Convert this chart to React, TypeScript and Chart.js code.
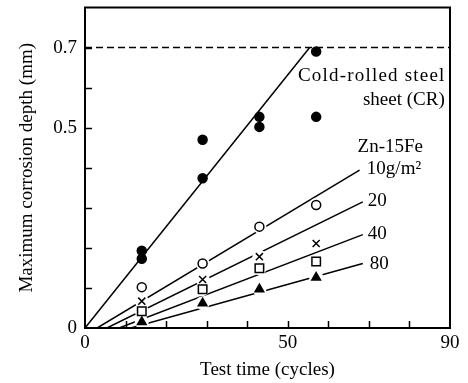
import React, { useEffect, useRef } from 'react';
import { Chart, registerables } from 'chart.js';

Chart.register(...registerables);

// ---- data ----
const cycles = [14, 29, 43, 57];
const crUpper = [0.193, 0.47, 0.527, 0.69];
const crLower = [0.173, 0.374, 0.502, 0.527];
const zn10 = [0.102, 0.161, 0.253, 0.307];
const zn20 = [0.067, 0.121, 0.178, 0.211];
const zn40 = [0.042, 0.097, 0.149, 0.166];
const zn80 = [0.015, 0.062, 0.097, 0.126];

const crFitX = [0, 55.4];
const crFitY = [0, 0.7];
const fit10X = [3.0, 67.7];
const fit10Y = [0, 0.394];
const fit20X = [5.4, 68.5];
const fit20Y = [0, 0.315];
const fit40X = [8.4, 68.5];
const fit40Y = [0, 0.233];
const fit80X = [11.3, 68.5];
const fit80Y = [0, 0.161];

const limitDepth = 0.7;
const xRange = [0, 90];
const yRange = [0, 0.8];
const xTickLabels = [0, 50, 90];
const yTickLabels = [0, 0.5, 0.7];

const annotationTexts = ['Cold-rolled steel', 'sheet (CR)', 'Zn-15Fe', '10g/m\u00B2', '20', '40', '80'];
const annotationX = [88.9, 88.7, 67.2, 69.5, 69.7, 69.7, 70.2];
const annotationY = [0.629, 0.57, 0.453, 0.396, 0.317, 0.235, 0.159];
const annotationAlign = ['right', 'right', 'left', 'left', 'left', 'left', 'left'];
const annotationSpacing = ['1.2px', '0px', '0px', '0px', '0px', '0px', '0px'];

const FONT = "'Liberation Serif', 'Times New Roman', serif";

const pts = (xs: number[], ys: number[]) => xs.map((x, i) => ({ x, y: ys[i] }));

const framePlugin = {
  id: 'frameTicks',
  afterDraw(chart: any) {
    const { ctx, chartArea: a, scales } = chart;
    ctx.save();
    ctx.strokeStyle = '#000';
    ctx.lineWidth = 2;
    ctx.strokeRect(a.left, a.top, a.right - a.left, a.bottom - a.top);
    ctx.lineWidth = 1.5;
    ctx.beginPath();
    scales.y.ticks.forEach((t: any) => {
      if (t.value <= yRange[0] + 1e-9 || t.value >= yRange[1] - 1e-9) return;
      const py = Math.round(scales.y.getPixelForValue(t.value)) + 0.5;
      ctx.moveTo(a.left, py);
      ctx.lineTo(a.left + 7, py);
    });
    scales.x.ticks.forEach((t: any) => {
      if (t.value <= xRange[0] || t.value >= xRange[1]) return;
      const px = Math.round(scales.x.getPixelForValue(t.value)) + 0.5;
      ctx.moveTo(px, a.bottom);
      ctx.lineTo(px, a.bottom - 7);
    });
    ctx.stroke();
    ctx.restore();
  },
};

const textPlugin = {
  id: 'annotTexts',
  afterDatasetsDraw(chart: any) {
    const { ctx, scales } = chart;
    ctx.save();
    ctx.fillStyle = '#000';
    ctx.font = `19px ${FONT}`;
    ctx.textBaseline = 'middle';
    annotationTexts.forEach((txt, i) => {
      ctx.textAlign = annotationAlign[i];
      try { (ctx as any).letterSpacing = annotationSpacing[i]; } catch (e) {}
      ctx.fillText(txt, scales.x.getPixelForValue(annotationX[i]), scales.y.getPixelForValue(annotationY[i]));
    });
    ctx.restore();
  },
};

export default function App() {
  const ref = useRef<HTMLCanvasElement>(null);
  useEffect(() => {
    if (!ref.current) return;
    const fitLine = (xs: number[], ys: number[], extra: any = {}) => ({
      data: pts(xs, ys),
      showLine: true,
      borderColor: '#000',
      borderWidth: 1.5,
      pointRadius: 0,
      ...extra,
    });
    const halo = (ys: number[]) => ({
      data: pts(cycles, ys),
      pointStyle: 'circle',
      pointRadius: 7,
      pointBackgroundColor: '#fff',
      pointBorderWidth: 0,
      pointBorderColor: '#fff',
      showLine: false,
    });
    const markers = (ys: number[], style: string, radius: number, fill: string) => ({
      data: pts(cycles, ys),
      pointStyle: style,
      pointRadius: radius,
      pointBackgroundColor: fill,
      pointBorderColor: '#000',
      pointBorderWidth: 1.5,
      showLine: false,
    });
    // Chart.js paints dataset 0 on top, so the list runs from front to back.
    const chart = new Chart(ref.current, {
      type: 'scatter',
      data: {
        datasets: [
          markers(crUpper, 'circle', 4.5, '#000'),
          markers(crLower, 'circle', 4.5, '#000'),
          markers(zn10, 'circle', 4.5, '#fff'),
          markers(zn20, 'crossRot', 5, '#fff'),
          markers(zn40, 'rect', 6, '#fff'),
          markers(zn80, 'triangle', 5, '#000'),
          fitLine(crFitX, crFitY),
          halo(zn10),
          halo(zn20),
          halo(zn40),
          halo(zn80),
          fitLine(fit10X, fit10Y),
          fitLine(fit20X, fit20Y),
          fitLine(fit40X, fit40Y),
          fitLine(fit80X, fit80Y),
          fitLine([xRange[0], xRange[1]], [limitDepth, limitDepth], { borderDash: [7, 4] }),
        ] as any,
      },
      options: {
        animation: false,
        responsive: false,
        layout: { padding: { left: 0, right: 18, top: 1, bottom: 0 } },
        plugins: { legend: { display: false }, tooltip: { enabled: false } },
        scales: {
          x: {
            type: 'linear',
            min: xRange[0],
            max: xRange[1],
            afterFit: (s: any) => { s.height = 55; s.paddingLeft = 0; s.paddingRight = 0; },
            grid: { display: false, drawTicks: false },
            border: { display: true, color: '#000', width: 2 },
            ticks: {
              stepSize: 10,
              autoSkip: false,
              maxRotation: 0,
              padding: 4,
              color: '#000',
              font: { family: FONT, size: 19 },
              callback: (v: any) => (xTickLabels.some((l) => Math.abs(l - v) < 1e-6) ? String(v) : ''),
            },
            title: {
              display: true,
              text: 'Test time (cycles)',
              color: '#000',
              font: { family: FONT, size: 19 },
              padding: { top: 0, bottom: 2 },
            },
          },
          y: {
            type: 'linear',
            min: yRange[0],
            max: yRange[1],
            afterFit: (s: any) => { s.width = 85; s.paddingTop = 0; s.paddingBottom = 0; },
            grid: { display: false, drawTicks: false },
            border: { display: true, color: '#000', width: 2 },
            ticks: {
              stepSize: 0.1,
              autoSkip: false,
              padding: 8,
              color: '#000',
              font: { family: FONT, size: 19 },
              callback: (v: any) => {
                const m = yTickLabels.find((l) => Math.abs(l - v) < 1e-6);
                return m === undefined ? '' : String(m);
              },
            },
            title: {
              display: true,
              text: 'Maximum corrosion depth (mm)',
              color: '#000',
              font: { family: FONT, size: 19 },
              padding: { top: 16, bottom: 0 },
            },
          },
        },
      },
      plugins: [framePlugin, textPlugin],
    } as any);
    return () => chart.destroy();
  }, []);
  return (
    <div style={{ position: 'fixed', left: 0, top: 0, width: 468, height: 383, background: '#fff' }}>
      <canvas ref={ref} width={468} height={383} />
    </div>
  );
}
